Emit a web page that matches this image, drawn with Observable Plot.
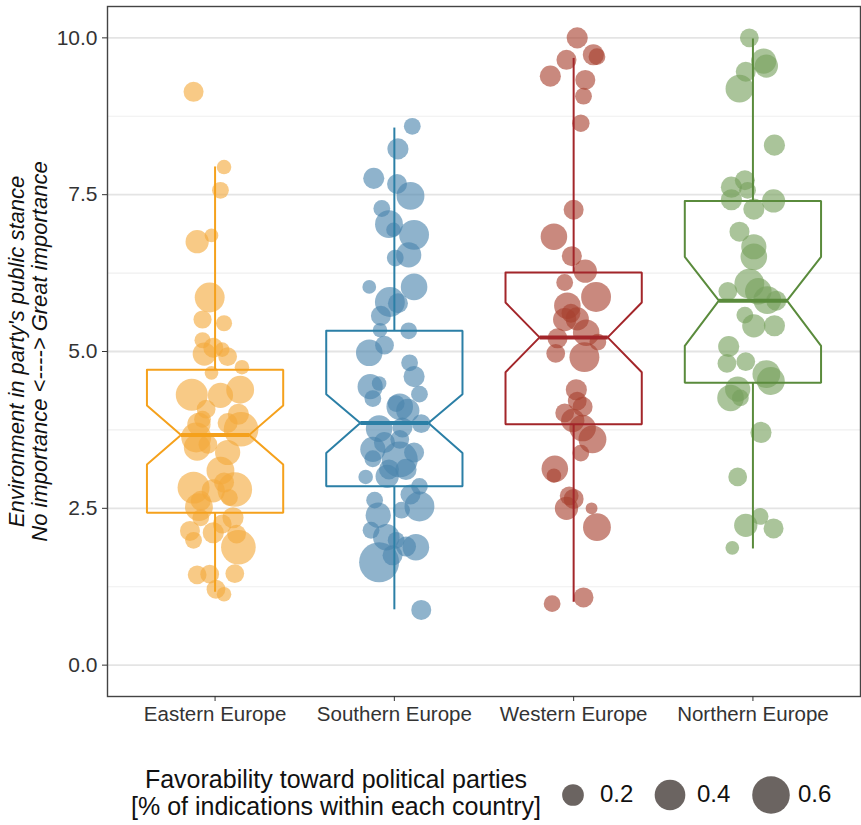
<!DOCTYPE html>
<html><head><meta charset="utf-8">
<script src="https://cdn.jsdelivr.net/npm/d3@7"></script>
<script src="https://cdn.jsdelivr.net/npm/@observablehq/plot@0.6"></script>
<style>
body{margin:0;background:#fff;font-family:"Liberation Sans",Arial,sans-serif;}
#chart{width:861px;height:825px;position:relative;overflow:hidden;}
#chart svg{display:block;}
#legend{position:absolute;left:0;top:736px;}
</style></head><body><div id="chart"></div>
<script>
// ---------- data ----------
const regions = ["Eastern Europe", "Southern Europe", "Western Europe", "Northern Europe"];
const boxColors = ["#F5A11C", "#2B7FA6", "#A3262A", "#5A8B3C"];
const pointColors = ["#F4AA3C", "#4A84AC", "#A8402E", "#76A05C"];

const whiskerLow  = [1.17, 0.89, 1.01, 1.86];
const q1          = [2.43, 2.85, 3.84, 4.50];
const notchLow    = [3.20, 3.38, 4.67, 5.09];
const median      = [3.67, 3.86, 5.225, 5.81];
const notchHigh   = [4.14, 4.32, 5.78, 6.51];
const q3          = [4.71, 5.33, 6.26, 7.40];
const whiskerHigh = [7.95, 8.57, 9.68, 9.99];

const yMajorTicks = [0, 2.5, 5, 7.5, 10];
const yMinorTicks = [1.25, 3.75, 6.25, 8.75];
const legendValues = [0.2, 0.4, 0.6];

// [environment importance, jitter, favorability]
const eastern = [
[9.14,-0.12,0.17],[7.94,0.05,0.09],[7.57,0.03,0.12],[6.75,-0.10,0.23],[6.85,-0.02,0.08],
[5.86,-0.03,0.38],[5.51,-0.07,0.14],[5.45,0.05,0.11],[5.18,-0.07,0.11],[4.96,-0.06,0.23],
[5.06,-0.01,0.17],[4.92,0.07,0.15],[5.03,0.04,0.09],[4.75,0.15,0.09],[4.66,-0.02,0.08],
[4.31,-0.13,0.435],[4.30,0.03,0.27],[4.39,0.14,0.33],[4.08,-0.05,0.15],[4.00,0.13,0.19],
[3.86,0.07,0.17],[3.76,0.145,0.51],[3.84,-0.09,0.23],[3.63,-0.105,0.38],[3.47,-0.10,0.30],
[3.39,0.07,0.27],[3.10,0.03,0.33],[2.83,-0.12,0.435],[2.80,0.11,0.51],[2.78,-0.01,0.23],
[2.91,0.05,0.17],[2.52,-0.09,0.33],[2.67,0.08,0.12],[2.35,-0.08,0.12],[2.35,0.10,0.19],
[2.14,-0.14,0.17],[1.99,-0.12,0.12],[2.11,-0.01,0.19],[2.09,0.12,0.15],[1.88,0.13,0.51],
[2.25,0.04,0.15],[1.44,-0.10,0.15],[1.45,-0.03,0.15],[1.46,0.11,0.15],[1.21,0.005,0.15],
[1.13,0.05,0.09],[3.92,-0.07,0.12],[3.52,-0.04,0.15],[2.62,-0.08,0.17]
];
const southern = [
[8.59,0.10,0.12],[8.23,0.02,0.19],[7.76,-0.115,0.19],[7.67,0.015,0.17],[7.48,0.09,0.33],
[7.28,-0.07,0.12],[7.03,-0.03,0.33],[6.86,0.11,0.38],[6.94,-0.005,0.09],[6.54,0.08,0.27],
[6.49,0.005,0.12],[6.03,-0.14,0.08],[6.03,0.11,0.30],[5.79,-0.025,0.38],[5.77,0.02,0.17],
[5.57,-0.075,0.17],[5.34,-0.08,0.09],[5.33,0.08,0.12],[4.98,-0.14,0.30],[5.10,-0.055,0.15],
[4.82,0.085,0.12],[4.60,0.11,0.19],[4.44,-0.135,0.27],[4.49,-0.085,0.09],[4.32,0.14,0.12],
[4.25,-0.12,0.12],[4.12,0.03,0.30],[4.06,0.075,0.23],[4.17,0.01,0.12],[3.77,-0.085,0.30],
[3.85,0.15,0.15],[3.79,0.045,0.17],[3.44,-0.12,0.27],[3.55,-0.055,0.19],[3.28,0.03,0.55],
[3.39,0.11,0.17],[3.29,-0.12,0.12],[3.00,-0.16,0.09],[3.01,-0.04,0.23],[3.12,0.065,0.19],
[2.63,-0.11,0.12],[2.39,-0.09,0.27],[2.85,0.14,0.12],[2.72,0.09,0.17],[2.53,0.14,0.38],
[2.47,0.04,0.12],[2.15,-0.13,0.12],[2.04,-0.045,0.30],[1.99,0.01,0.12],[1.64,-0.085,0.68],
[1.88,0.12,0.30],[1.89,0.065,0.17],[1.75,-0.01,0.17],[0.88,0.15,0.17],[3.12,-0.03,0.17],
[3.60,0.03,0.15]
];
const western = [
[10.0,0.02,0.19],[9.73,0.11,0.19],[9.70,0.13,0.12],[9.65,-0.04,0.17],[9.39,-0.13,0.19],
[9.33,0.065,0.17],[9.07,0.055,0.12],[8.64,0.04,0.13],[7.26,0.0,0.17],[6.83,-0.11,0.30],
[6.52,-0.01,0.17],[6.28,0.065,0.23],[6.10,-0.05,0.12],[5.87,0.125,0.38],[5.73,-0.035,0.30],
[5.61,-0.015,0.15],[5.52,0.02,0.23],[5.51,-0.05,0.23],[5.30,0.07,0.30],[5.21,-0.09,0.17],
[5.15,0.135,0.12],[4.97,-0.10,0.15],[4.91,0.06,0.38],[4.39,0.015,0.19],[4.21,0.02,0.15],
[4.12,0.05,0.17],[4.02,-0.05,0.15],[3.90,-0.005,0.23],[3.78,0.05,0.30],[3.60,0.105,0.33],
[3.38,0.04,0.12],[3.13,-0.105,0.30],[3.02,-0.11,0.09],[2.65,0.0,0.17],[2.50,-0.04,0.23],
[2.50,0.10,0.06],[2.20,0.13,0.33],[0.98,-0.12,0.12],[1.08,0.055,0.17],[2.70,-0.025,0.15]
];
const northern = [
[10.0,-0.02,0.15],[9.63,0.06,0.27],[9.55,0.075,0.23],[9.46,-0.04,0.17],[9.19,-0.075,0.33],
[8.29,0.12,0.19],[7.73,-0.045,0.17],[7.62,-0.12,0.19],[7.57,-0.03,0.12],[7.42,-0.12,0.19],
[7.40,0.115,0.23],[7.27,0.005,0.19],[6.91,-0.075,0.17],[6.67,0.005,0.27],[6.51,0.005,0.30],
[5.96,-0.14,0.15],[6.08,-0.02,0.38],[5.96,0.03,0.30],[5.82,0.08,0.33],[5.81,0.13,0.17],
[5.58,-0.045,0.12],[5.41,0.005,0.23],[5.41,0.12,0.19],[5.08,-0.135,0.19],[4.81,-0.145,0.15],
[4.84,-0.04,0.15],[4.64,0.075,0.33],[4.53,0.10,0.33],[4.40,-0.085,0.27],[4.26,-0.125,0.30],
[4.26,-0.07,0.12],[3.71,0.045,0.19],[3.00,-0.085,0.15],[2.37,0.04,0.12],[2.23,-0.04,0.23],
[2.18,0.115,0.17],[1.87,-0.115,0.08]
];
const groups = [eastern, southern, western, northern];

const yTitle = "Environment in party's public stance\nNo importance <----> Great importance";
const legendTitle = ["Favorability toward political parties", "[% of indications within each country]"];

// ---------- build tables ----------
const BW = 0.38; // half box width in category units
const rDomain = [0, 0.75], rRange = [0, 21];
const rOf = v => rRange[1] * Math.sqrt(v / rDomain[1]);

const marks = [];
marks.push(Plot.ruleY(yMinorTicks, {stroke: "#efefef", strokeWidth: 1.2}));
marks.push(Plot.ruleY(yMajorTicks, {stroke: "#e4e4e4", strokeWidth: 1.8}));

regions.forEach((reg, i) => {
  const pts = groups[i].map(([v, j, f]) => ({x: i + 1 + j, y: v, f}));
  marks.push(Plot.dot(pts, {x: "x", y: "y", r: "f", fill: pointColors[i], fillOpacity: 0.62, stroke: "none", sort: null}));
});

regions.forEach((reg, i) => {
  const c = i + 1;
  const poly = [
    [c - BW, q3[i]], [c + BW, q3[i]], [c + BW, notchHigh[i]], [c + BW / 2, median[i]],
    [c + BW, notchLow[i]], [c + BW, q1[i]], [c - BW, q1[i]], [c - BW, notchLow[i]],
    [c - BW / 2, median[i]], [c - BW, notchHigh[i]], [c - BW, q3[i]]
  ].map(([x, y]) => ({x, y}));
  const col = boxColors[i];
  marks.push(Plot.link([{x: c, y1: q3[i], y2: whiskerHigh[i]}, {x: c, y1: q1[i], y2: whiskerLow[i]}],
    {x1: "x", x2: "x", y1: "y1", y2: "y2", stroke: col, strokeWidth: 2}));
  marks.push(Plot.line(poly, {x: "x", y: "y", stroke: col, strokeWidth: 2, strokeLinejoin: "miter"}));
  marks.push(Plot.link([{x1: c - BW / 2, x2: c + BW / 2, y: median[i]}],
    {x1: "x1", x2: "x2", y1: "y", y2: "y", stroke: col, strokeWidth: 4}));
});

marks.push(Plot.frame({stroke: "#444", strokeWidth: 1.4}));
marks.push(Plot.axisY({ticks: yMajorTicks, tickFormat: d => d.toFixed(1), tickSize: 5, tickPadding: 5, fontSize: 21, color: "#333", label: null}));
marks.push(Plot.axisX({ticks: [1, 2, 3, 4], tickFormat: d => regions[d - 1], tickSize: 5, tickPadding: 5, fontSize: 20.5, color: "#333", label: null}));
marks.push(Plot.text([yTitle], {frameAnchor: "left", text: d => d, rotate: -90, dx: -79, fontSize: 22, fontStyle: "italic", fill: "#111", textAnchor: "middle", lineAnchor: "middle", lineHeight: 1.05}));

const plot = Plot.plot({
  width: 861, height: 736,
  marginTop: 6, marginBottom: 40, marginLeft: 107, marginRight: 1,
  x: {type: "linear", domain: [0.4, 4.6]},
  y: {domain: [-0.5, 10.5]},
  r: {domain: rDomain, range: rRange},
  style: {fontFamily: "Liberation Sans, Arial, sans-serif", background: "#fff", overflow: "visible"},
  marks
});
const chart = document.getElementById("chart");
chart.appendChild(plot);

// ---------- legend ----------
const NS = "http://www.w3.org/2000/svg";
const leg = document.createElementNS(NS, "svg");
leg.setAttribute("id", "legend");
leg.setAttribute("width", 861); leg.setAttribute("height", 89);
leg.style.fontFamily = "Liberation Sans, Arial, sans-serif";
legendTitle.forEach((t, k) => {
  const el = document.createElementNS(NS, "text");
  el.setAttribute("x", 336); el.setAttribute("y", 45 + k * 27);
  el.setAttribute("text-anchor", "middle"); el.setAttribute("dominant-baseline", "middle");
  el.setAttribute("font-size", 25); el.setAttribute("fill", "#111");
  el.textContent = t; leg.appendChild(el);
});
const keyX = [573, 670, 771];
legendValues.forEach((v, k) => {
  const c = document.createElementNS(NS, "circle");
  c.setAttribute("cx", keyX[k]); c.setAttribute("cy", 59); c.setAttribute("r", rOf(v));
  c.setAttribute("fill", "#6b6461"); leg.appendChild(c);
  const t = document.createElementNS(NS, "text");
  t.setAttribute("x", keyX[k] + 27); t.setAttribute("y", 60);
  t.setAttribute("dominant-baseline", "middle"); t.setAttribute("font-size", 24); t.setAttribute("fill", "#111");
  t.textContent = v.toFixed(1); leg.appendChild(t);
});
chart.appendChild(leg);
</script></body></html>
